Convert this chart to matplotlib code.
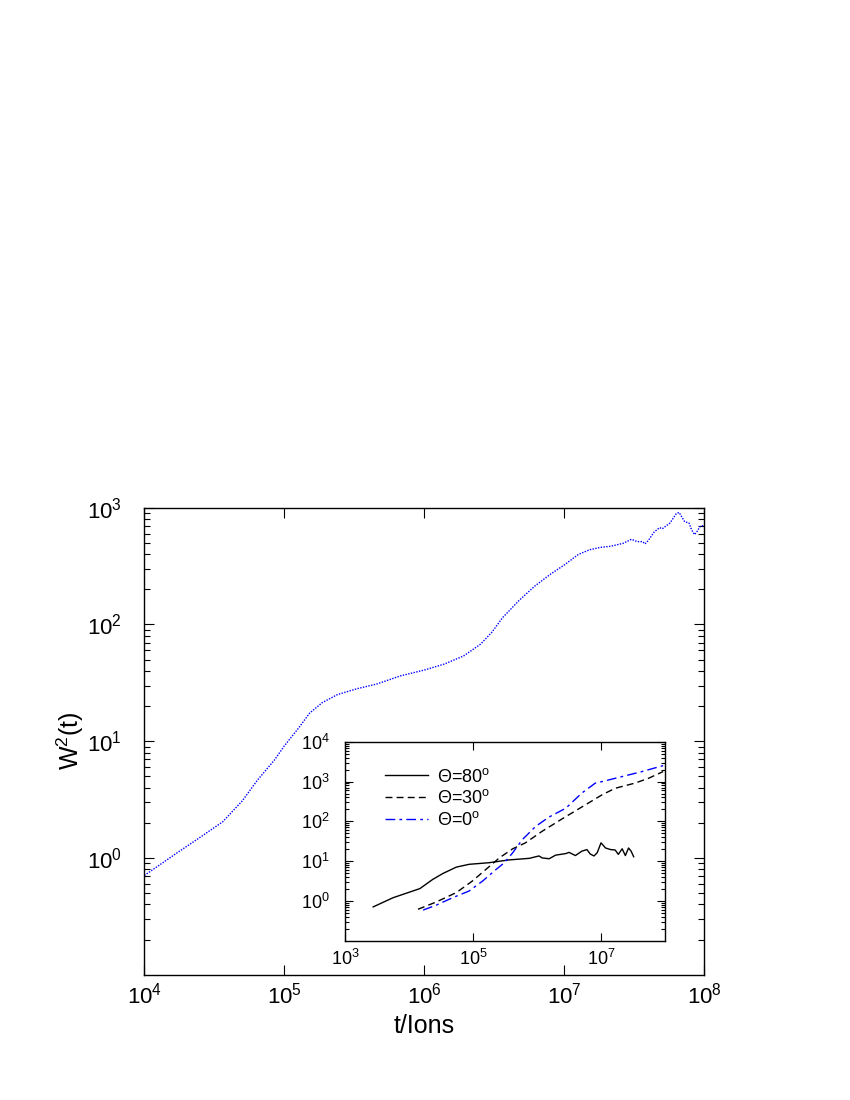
import matplotlib
matplotlib.use('Agg')
import matplotlib.pyplot as plt
from matplotlib.ticker import LogLocator, NullLocator
import numpy as np

plt.rcParams['font.family'] = ['Liberation Sans', 'DejaVu Sans']
plt.rcParams['mathtext.fontset'] = 'custom'
plt.rcParams['mathtext.rm'] = 'Liberation Sans'
plt.rcParams['mathtext.it'] = 'Liberation Sans:italic'
plt.rcParams['mathtext.bf'] = 'Liberation Sans:bold'
plt.rcParams['mathtext.default'] = 'regular'

# main curve, log10(t) vs log10(W^2)
main_logt = [4.0, 4.25, 4.39, 4.56, 4.70, 4.81, 4.93, 5.0, 5.10, 5.18, 5.27, 5.38,
             5.52, 5.66, 5.83, 6.0, 6.14, 6.28, 6.40, 6.48, 6.56, 6.68, 6.79, 6.90,
             7.0, 7.10, 7.18, 7.255, 7.33, 7.42, 7.48, 7.52, 7.56, 7.576, 7.60, 7.64,
             7.68, 7.70, 7.755, 7.80, 7.82, 7.83, 7.86, 7.89, 7.91, 7.93, 7.95, 7.97, 8.0]
main_logw = [-0.15, 0.057, 0.17, 0.31, 0.49, 0.67, 0.84, 0.96, 1.11, 1.24, 1.33, 1.40,
             1.45, 1.49, 1.56, 1.61, 1.66, 1.73, 1.83, 1.93, 2.06, 2.21, 2.33, 2.43,
             2.51, 2.60, 2.64, 2.66, 2.67, 2.695, 2.73, 2.71, 2.71, 2.69, 2.72, 2.79,
             2.83, 2.82, 2.87, 2.95, 2.96, 2.94, 2.88, 2.87, 2.81, 2.77, 2.80, 2.84, 2.85]

# inset curves
th80_logt = [3.44, 3.75, 4.17, 4.37, 4.53, 4.74, 4.94, 5.25, 5.56, 5.88, 6.03, 6.08,
             6.19, 6.29, 6.45, 6.50, 6.60, 6.70, 6.78, 6.83, 6.89, 6.94, 7.0, 7.07,
             7.15, 7.22, 7.27, 7.33, 7.38, 7.43, 7.47, 7.51]
th80_logw = [-0.15, 0.08, 0.31, 0.54, 0.69, 0.85, 0.92, 0.96, 1.03, 1.07, 1.13, 1.08,
             1.06, 1.15, 1.19, 1.22, 1.14, 1.25, 1.29, 1.18, 1.13, 1.21, 1.46, 1.33,
             1.29, 1.28, 1.17, 1.31, 1.14, 1.33, 1.25, 1.11]

th30_logt = [4.14, 4.42, 4.74, 4.99, 5.20, 5.41, 5.62, 5.82, 6.08, 6.39, 6.70, 7.02,
             7.22, 7.53, 7.74, 7.97]
th30_logw = [-0.21, -0.03, 0.21, 0.50, 0.79, 1.08, 1.31, 1.46, 1.75, 2.06, 2.36, 2.67,
             2.83, 2.96, 3.08, 3.25]

th0_logt = [4.22, 4.42, 4.68, 4.94, 5.15, 5.36, 5.49, 5.62, 5.77, 5.98, 6.19, 6.45,
            6.70, 6.91, 7.02, 7.33, 7.64, 7.97]
th0_logw = [-0.23, -0.11, 0.08, 0.25, 0.50, 0.79, 0.96, 1.21, 1.54, 1.875, 2.11, 2.33,
            2.71, 2.96, 3.0, 3.125, 3.25, 3.4]

labels = [r'$\Theta$=80$^{o}$', r'$\Theta$=30$^{o}$', r'$\Theta$=0$^{o}$']


def style_axis(ax, size, major, minor, xpad, ypad):
    ax.tick_params(which='both', direction='in', top=True, right=True,
                   labelsize=size, width=0.8)
    ax.tick_params(which='major', length=major)
    ax.tick_params(which='minor', length=minor)
    ax.tick_params(axis='x', which='major', pad=xpad)
    ax.tick_params(axis='y', which='major', pad=ypad)
    for s in ax.spines.values():
        s.set_linewidth(1.0)


fig = plt.figure(figsize=(8.5, 11), dpi=100)

ax = fig.add_axes([0.1698, 0.1139, 0.6588, 0.4245])
ax.plot(10 ** np.array(main_logt), 10 ** np.array(main_logw),
        color='blue', linestyle=(0, (1, 1)), lw=1.0)
ax.set_xscale('log')
ax.set_yscale('log')
ax.set_xlim(1e4, 1e8)
ax.set_ylim(1e-1, 1e3)
ax.set_xticks([1e4, 1e5, 1e6, 1e7, 1e8])
ax.xaxis.set_minor_locator(NullLocator())
ax.set_yticks([1, 10, 100, 1000])
ax.yaxis.set_minor_locator(LogLocator(base=10, subs=np.arange(2, 10)))
style_axis(ax, 16, 7, 4, 6, 16)
ax.set_xlabel('t/Ions', fontsize=18, labelpad=4)
ax.set_ylabel(r'W$^2$(t)', fontsize=18, labelpad=1)

ins = fig.add_axes([0.4059, 0.1448, 0.3765, 0.1809])
ins.plot(10 ** np.array(th80_logt), 10 ** np.array(th80_logw),
         color='black', lw=1.0, label=labels[0])
ins.plot(10 ** np.array(th30_logt), 10 ** np.array(th30_logw),
         color='black', lw=1.0, linestyle=(0, (5, 3)), label=labels[1])
ins.plot(10 ** np.array(th0_logt), 10 ** np.array(th0_logw),
         color='blue', lw=1.0, linestyle=(0, (7, 3, 2, 3)), label=labels[2])
ins.set_xscale('log')
ins.set_yscale('log')
ins.set_xlim(1e3, 1e8)
ins.set_ylim(1e-1, 1e4)
ins.set_xticks([1e3, 1e5, 1e7])
ins.xaxis.set_minor_locator(NullLocator())
ins.set_yticks([1, 10, 100, 1000, 10000])
ins.yaxis.set_minor_locator(LogLocator(base=10, subs=np.arange(2, 10)))
style_axis(ins, 13, 6, 3, 6, 11)
ins.legend(loc='upper left', bbox_to_anchor=(0.125, 0.87), frameon=False,
           fontsize=13, borderpad=0, borderaxespad=0, handlelength=2.4,
           handletextpad=0.5, labelspacing=0.2)

fig.savefig('out.png', dpi=100)
